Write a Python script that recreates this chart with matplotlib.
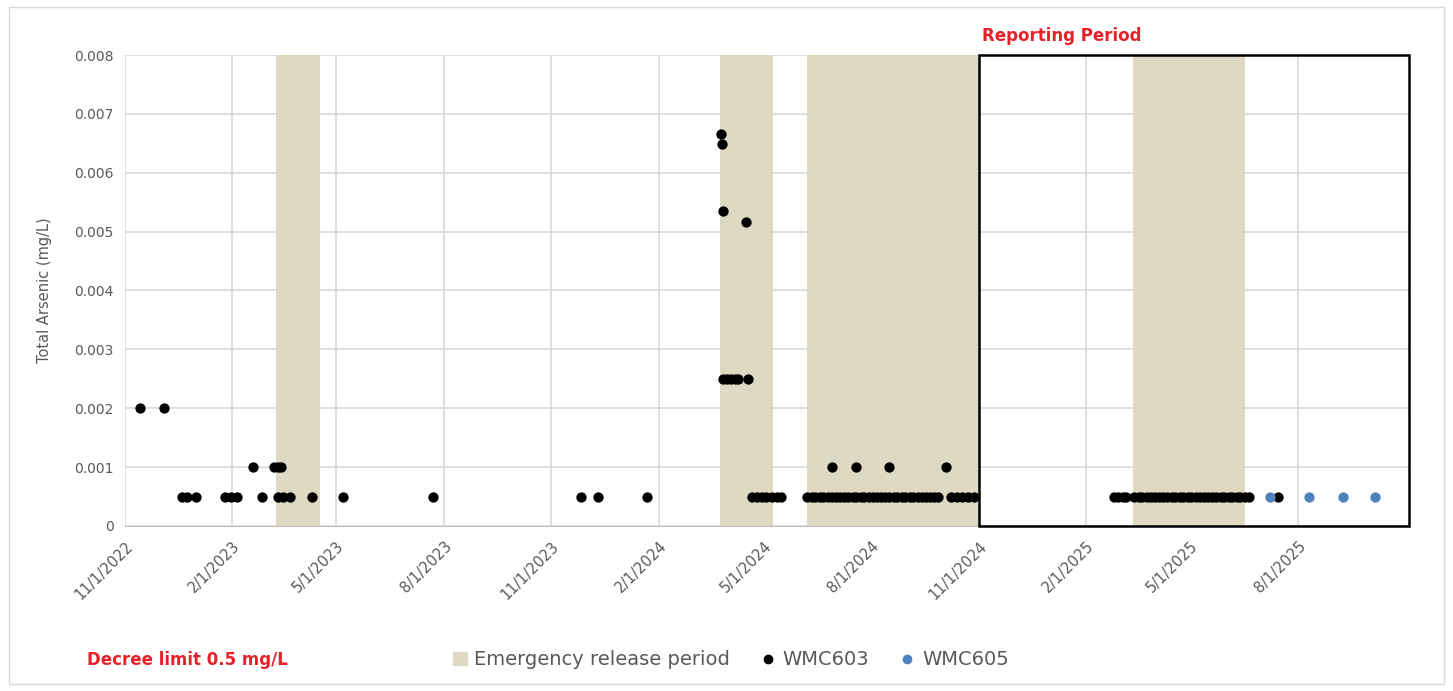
import matplotlib
matplotlib.use('Agg')
import matplotlib.pyplot as plt
import matplotlib.patches as mpatches
from matplotlib.lines import Line2D
import matplotlib.dates as mdates
import pandas as pd

# WMC603 samples (date, total arsenic mg/L)
wmc603_dates = [
    '2022-11-14', '2022-12-04',
    '2022-12-20', '2022-12-24', '2023-01-01', '2023-01-26', '2023-01-31', '2023-02-05',
    '2023-02-19', '2023-02-26',
    '2023-03-09', '2023-03-12', '2023-03-15',
    '2023-03-12', '2023-03-16', '2023-03-22', '2023-04-10', '2023-05-07', '2023-07-23',
    '2023-11-26', '2023-12-11', '2024-01-22',
    '2024-03-25', '2024-03-26', '2024-03-27', '2024-04-16',
    '2024-03-27', '2024-03-30', '2024-04-03', '2024-04-06', '2024-04-09', '2024-04-17',
    '2024-04-21', '2024-04-25', '2024-04-29', '2024-05-03', '2024-05-08', '2024-05-12', '2024-05-16',
    '2024-06-07', '2024-06-11', '2024-06-14', '2024-06-18', '2024-06-21', '2024-06-25', '2024-06-28',
    '2024-07-02', '2024-07-05', '2024-07-09', '2024-07-12', '2024-07-16', '2024-07-19', '2024-07-23',
    '2024-07-26', '2024-07-30', '2024-08-02', '2024-08-06', '2024-08-09', '2024-08-13', '2024-08-16',
    '2024-08-20', '2024-08-23', '2024-08-27', '2024-08-30', '2024-09-03', '2024-09-06', '2024-09-10',
    '2024-09-13', '2024-09-17', '2024-09-20', '2024-09-24', '2024-09-27',
    '2024-06-28', '2024-07-19', '2024-08-16', '2024-10-04',
    '2024-10-08', '2024-10-13', '2024-10-18', '2024-10-23', '2024-10-28',
    '2025-02-25', '2025-02-28', '2025-03-04', '2025-03-07',
    '2025-03-14', '2025-03-18', '2025-03-21', '2025-03-25', '2025-03-28', '2025-04-01', '2025-04-04',
    '2025-04-08', '2025-04-11', '2025-04-15', '2025-04-18', '2025-04-22', '2025-04-25', '2025-04-29',
    '2025-05-02', '2025-05-06', '2025-05-09', '2025-05-13', '2025-05-16', '2025-05-20', '2025-05-23',
    '2025-05-27', '2025-05-30', '2025-06-03', '2025-06-06', '2025-06-10', '2025-06-13', '2025-06-17',
    '2025-06-20', '2025-07-15',
]
wmc603_values = (
    [0.002, 0.002]
    + [0.0005] * 6
    + [0.001, 0.0005]
    + [0.001] * 3
    + [0.0005] * 6
    + [0.0005] * 3
    + [0.00666, 0.00648, 0.00535, 0.00516]
    + [0.0025] * 6
    + [0.0005] * 7
    + [0.0005] * 33
    + [0.001] * 4
    + [0.0005] * 5
    + [0.0005] * 4
    + [0.0005] * 29
    + [0.0005]
)

# WMC605 samples
wmc605_dates = ['2025-07-08', '2025-08-11', '2025-09-09', '2025-10-06']
wmc605_values = [0.0005, 0.0005, 0.0005, 0.0005]

# emergency release periods (start, end)
release_starts = ['2023-03-10', '2024-03-24', '2024-06-07', '2025-03-13']
release_ends = ['2023-04-17', '2024-05-09', '2024-11-01', '2025-06-17']

tick_dates = ['2022-11-01', '2023-02-01', '2023-05-01', '2023-08-01', '2023-11-01', '2024-02-01',
              '2024-05-01', '2024-08-01', '2024-11-01', '2025-02-01', '2025-05-01', '2025-08-01']
tick_labels = ['11/1/2022', '2/1/2023', '5/1/2023', '8/1/2023', '11/1/2023', '2/1/2024',
               '5/1/2024', '8/1/2024', '11/1/2024', '2/1/2025', '5/1/2025', '8/1/2025']
y_ticks = [0, 0.001, 0.002, 0.003, 0.004, 0.005, 0.006, 0.007, 0.008]
y_labels = ['0', '0.001', '0.002', '0.003', '0.004', '0.005', '0.006', '0.007', '0.008']

report_start = '2024-11-01'

tan = '#DDD9C3'
blue = '#4F81BD'
red = '#E8202A'
gray_txt = '#595959'

fig = plt.figure(figsize=(14.53, 6.91), dpi=100)
ax = fig.add_axes([0.086, 0.2388, 0.8835, 0.6816])

for s, e in zip(release_starts, release_ends):
    ax.axvspan(pd.Timestamp(s), pd.Timestamp(e), color=tan, lw=0, zorder=1)

ax.scatter(pd.to_datetime(wmc603_dates), wmc603_values, s=55, color='black', zorder=3, lw=0)
ax.scatter(pd.to_datetime(wmc605_dates), wmc605_values, s=55, color=blue, zorder=4, lw=0)

x0 = pd.Timestamp('2022-11-01')
x1 = pd.Timestamp('2025-11-04')
ax.set_xlim(x0, x1)
ax.set_ylim(0, 0.008)

# reporting period box
rs = mdates.date2num(pd.Timestamp(report_start))
ax.add_patch(mpatches.Rectangle((rs, 0), mdates.date2num(x1) - rs, 0.008, fill=False,
                                edgecolor='black', lw=1.8, zorder=5, clip_on=False))
ax.text(pd.Timestamp('2024-11-04'), 0.00832, 'Reporting Period', color=red,
        fontsize=12, fontweight='bold', ha='left', va='center')

ax.set_xticks(pd.to_datetime(tick_dates))
ax.set_xticklabels(tick_labels, rotation=45, ha='right', rotation_mode='anchor',
                   fontsize=10.5, color=gray_txt)
ax.set_yticks(y_ticks)
ax.set_yticklabels(y_labels, fontsize=10, color=gray_txt)
ax.tick_params(axis='x', length=0, pad=9)
ax.tick_params(axis='y', length=0, pad=8)
ax.grid(True, color='#D9D9D9', lw=1.2, zorder=0)
ax.set_axisbelow(True)
for side in ['left', 'right', 'top']:
    ax.spines[side].set_visible(False)
ax.spines['bottom'].set_color('#BFBFBF')
ax.set_ylabel('Total Arsenic (mg/L)', fontsize=10.5, color=gray_txt, labelpad=16)

handles = [
    mpatches.Patch(color=tan, label='Emergency release period'),
    Line2D([], [], marker='o', ls='', color='black', markersize=6, label='WMC603'),
    Line2D([], [], marker='o', ls='', color=blue, markersize=6, label='WMC605'),
]
fig.legend(handles=handles, loc='center', bbox_to_anchor=(0.503, 0.045), ncol=3, frameon=False,
           fontsize=14, handlelength=0.7, handletextpad=0.4,
           columnspacing=1.6, labelcolor=gray_txt)
fig.text(0.06, 0.045, 'Decree limit 0.5 mg/L', color=red, fontsize=12,
         fontweight='bold', ha='left', va='center')

fig.add_artist(mpatches.Rectangle((0.006, 0.01), 0.988, 0.98, transform=fig.transFigure,
                                  fill=False, edgecolor='#D9D9D9', lw=1))

fig.savefig('out.png', dpi=100)
